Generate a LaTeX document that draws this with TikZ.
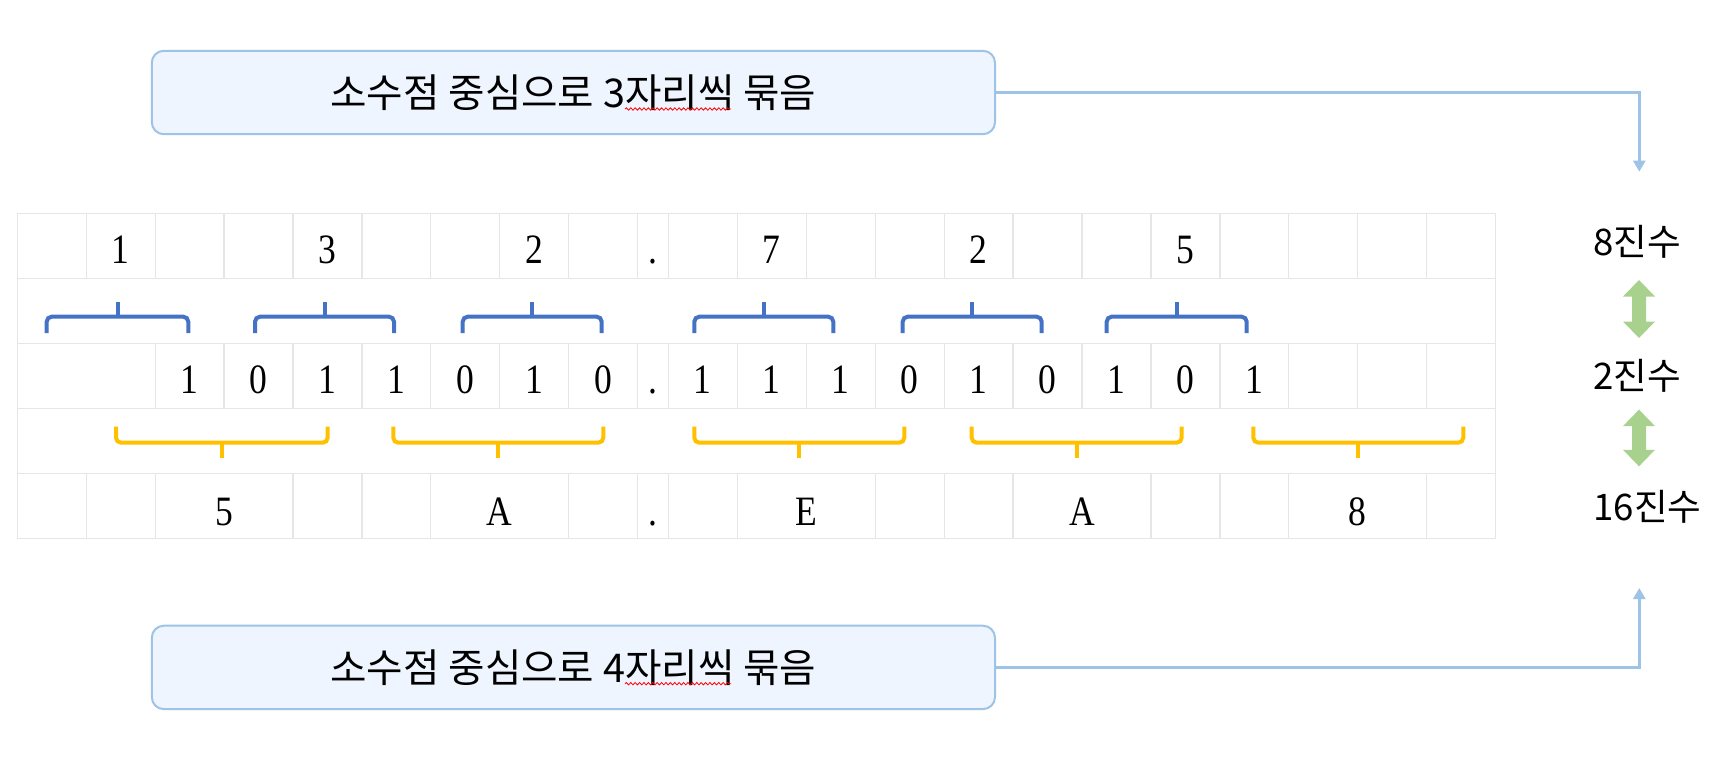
\documentclass[tikz,border=0pt]{standalone}
\usepackage{fontspec}
\newfontfamily\krfont{Noto Sans CJK KR}
\newfontfamily\gridfont[FakeStretch=0.85]{Liberation Serif}
\usetikzlibrary{arrows.meta,decorations.pathmorphing}
\definecolor{gridgray}{HTML}{E6E6E6}
\definecolor{braceblue}{HTML}{4472C4}
\definecolor{braceyellow}{HTML}{FFC000}
\definecolor{boxline}{HTML}{9DC3E6}
\definecolor{boxfill}{HTML}{EEF5FE}
\definecolor{arrowgreen}{HTML}{A9D18E}
\begin{document}
\begin{tikzpicture}[x=0.5pt,y=-0.5pt,
  gridline/.style={draw=gridgray, line width=0.6pt},
  gcell/.style={font=\gridfont\fontsize{20.9}{24}\selectfont, anchor=base, inner sep=0pt},
  bbrace/.style={draw=braceblue, line width=2pt, rounded corners=2.5pt},
  ybrace/.style={draw=braceyellow, line width=2pt, rounded corners=2.5pt},
  notebox/.style={draw=boxline, fill=boxfill, line width=1pt, rounded corners=6pt,
    minimum width=421.6pt, minimum height=41.7pt, inner sep=0pt,
    font=\krfont\fontsize{19.8}{23}\selectfont},
  sidelabel/.style={font=\krfont\fontsize{18.3}{22}\selectfont, anchor=west, inner sep=0pt},
  conn/.style={draw=boxline, line width=1.3pt, -{Triangle[length=5.5pt,width=6pt]}},
  garrow/.style={fill=arrowgreen},
  squiggle/.style={draw=red, line width=0.4pt, decorate,
    decoration={snake, amplitude=0.6pt, segment length=2.2pt}}]
\useasboundingbox (0,0) rectangle (1726,766);

% ---------- grid ----------
\draw[gridline] (17.3,213.3) rectangle (1495.7,538.3);
\foreach \yy in {278.3,343.3,408.3,473.3}
  \draw[gridline] (17.3,\yy) -- (1495.7,\yy);
% row 1: all separators
\foreach \k in {1,...,9}
  \draw[gridline] ({17.3+68.93*\k},213.3) -- ++(0,65);
\foreach \j in {0,...,11}
  \draw[gridline] ({668.3+68.95*\j},213.3) -- ++(0,65);
% row 3
\foreach \k in {2,...,9}
  \draw[gridline] ({17.3+68.93*\k},343.3) -- ++(0,65);
\foreach \j in {0,...,11}
  \draw[gridline] ({668.3+68.95*\j},343.3) -- ++(0,65);
% row 5
\foreach \k in {1,2,4,5,6,8,9}
  \draw[gridline] ({17.3+68.93*\k},473.3) -- ++(0,65);
\foreach \j in {0,1,3,4,5,7,8,9,11}
  \draw[gridline] ({668.3+68.95*\j},473.3) -- ++(0,65);

% ---------- row 1: octal ----------
\node[gcell] (o1) at ({17.3+68.93*1.5},263) {1};
\node[gcell] (o2) at ({17.3+68.93*4.5},263) {3};
\node[gcell] (o3) at ({17.3+68.93*7.5},263) {2};
\node[gcell] (odot) at (653,263) {.};
\node[gcell] (o4) at ({668.3+68.95*1.5},263) {7};
\node[gcell] (o5) at ({668.3+68.95*4.5},263) {2};
\node[gcell] (o6) at ({668.3+68.95*7.5},263) {5};

% ---------- row 3: binary ----------
\foreach \v [count=\i from 2] in {1,0,1,1,0,1,0}
  \node[gcell] (bl\i) at ({17.3+68.93*(\i+0.5)},393.3) {\v};
\node[gcell] (bdot) at (653,393.3) {.};
\foreach \v [count=\i from 0] in {1,1,1,0,1,0,1,0,1}
  \node[gcell] (br\i) at ({668.3+68.95*(\i+0.5)},393.3) {\v};

% ---------- row 5: hexadecimal ----------
\node[gcell] (h1) at (224.1,525) {5};
\node[gcell] (h2) at (499.8,525) {A};
\node[gcell] (hdot) at (653,525) {.};
\node[gcell] (h3) at (806.2,525) {E};
\node[gcell] (h4) at (1082.0,525) {A};
\node[gcell] (h5) at (1357.8,525) {8};

% ---------- blue braces (groups of 3) ----------
\foreach \a/\b in {46.7/188.3, 255/394, 462.7/601.7, 694.3/833.3, 902.7/1041.7, 1106.7/1246.7}{
  \draw[bbrace] (\a,333) |- (\b,316.7) -- (\b,333);
  \draw[braceblue, line width=2pt] ({(\a+\b)/2},317.5) -- ({(\a+\b)/2},301.7);
}
% ---------- yellow braces (groups of 4) ----------
\foreach \a/\b in {116/327.7, 393.3/603.3, 694.3/904.3, 971.7/1181.7, 1253.3/1463.3}{
  \draw[ybrace] (\a,426.7) |- (\b,442.7) -- (\b,426.7);
  \draw[braceyellow, line width=2pt] ({(\a+\b)/2},441.9) -- ({(\a+\b)/2},458.3);
}

% ---------- boxes ----------
\node[notebox] (top) at (573.4,92.5) {소수점 중심으로 3자리씩 묶음};
\node[notebox] (bot) at (573.4,667.4) {소수점 중심으로 4자리씩 묶음};
\draw[squiggle] (625,109) -- (731,109);
\draw[squiggle] (625,683.7) -- (731,683.7);

% ---------- side labels ----------
\node[sidelabel] (oct) at (1593,242) {8진수};
\node[sidelabel] (bin) at (1593,376) {2진수};
\node[sidelabel] (hex) at (1593,507) {16진수};

% ---------- connectors ----------
\coordinate (t8) at (1639.3,171.7);
\coordinate (t16) at (1639.3,588);
\draw[conn] (top.east) -| (t8);
\draw[conn] (bot.east) -| (t16);

% ---------- green double arrows ----------
\foreach \ya/\yb in {280/338, 409.6/466.3}{
  \fill[garrow] (1639,\ya) -- (1655,{\ya+16.5}) -- (1646,{\ya+16.5}) -- (1646,{\yb-16.5})
    -- (1655,{\yb-16.5}) -- (1639,\yb) -- (1623,{\yb-16.5}) -- (1632,{\yb-16.5})
    -- (1632,{\ya+16.5}) -- (1623,{\ya+16.5}) -- cycle;
}
\end{tikzpicture}
\end{document}
